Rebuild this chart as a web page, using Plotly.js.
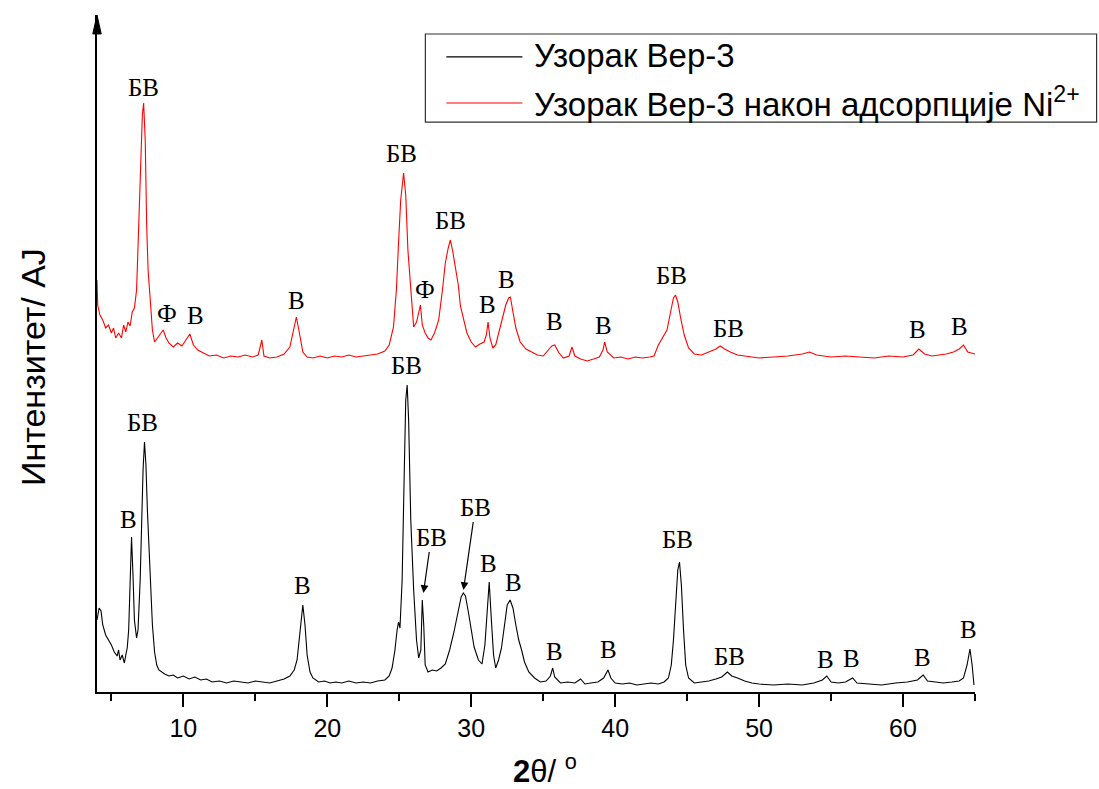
<!DOCTYPE html>
<html>
<head>
<meta charset="utf-8">
<script src="https://cdn.plot.ly/plotly-3.0.1.min.js"></script>
<style>html,body{margin:0;padding:0;background:#fff;}#chart{width:1099px;height:789px;}</style>
</head>
<body>
<div id="chart"></div>
<script>
// ---- Data (2θ in degrees, intensity in arbitrary units) ----
const seriesNames = ["Узорак Вер-3", "Узорак Вер-3 након адсорпције Ni<sup>2+</sup>"];
const seriesColors = ["#000000", "#ff0000"];
const xAxisTitle = "<b>2</b>θ/ <sup>o</sup>";
const yAxisTitle = "Интензитет/ AJ";

const blackX = [4.0,4.15,4.28,4.4,4.6,4.8,5.0,5.2,5.4,5.5,5.6,5.75,5.9,6.0,6.1,6.2,6.3,6.4,6.5,6.6,6.75,6.85,7.0,7.1,7.2,7.3,7.4,7.5,7.6,7.7,7.85,8.0,8.15,8.3,8.5,8.7,9.0,9.3,9.6,10.0,10.4,10.8,11.2,11.6,12.0,12.5,13.0,13.5,14.0,14.5,15.0,15.5,16.0,16.5,17.0,17.4,17.7,17.9,18.1,18.3,18.45,18.6,18.8,19.0,19.4,19.8,20.2,20.6,21.0,21.5,22.0,22.5,23.0,23.5,24.0,24.3,24.5,24.7,24.85,24.95,25.05,25.2,25.35,25.45,25.55,25.65,25.8,26.0,26.2,26.35,26.5,26.6,26.7,26.8,27.0,27.3,27.6,27.9,28.2,28.5,28.8,29.1,29.3,29.45,29.6,29.8,30.0,30.2,30.5,30.75,30.95,31.1,31.25,31.4,31.55,31.7,31.9,32.1,32.3,32.5,32.7,32.9,33.1,33.3,33.5,33.7,34.0,34.4,34.8,35.2,35.5,35.66,35.8,36.2,36.7,37.2,37.6,37.9,38.3,38.8,39.2,39.5,39.7,40.0,40.5,41.0,41.5,42.0,42.5,43.0,43.4,43.7,43.9,44.05,44.2,44.35,44.47,44.6,44.75,44.9,45.1,45.5,46.0,46.5,47.0,47.4,47.8,48.1,48.5,49.0,49.5,50.0,51.0,52.0,53.0,53.8,54.4,54.7,55.0,55.5,56.0,56.5,56.8,57.5,58.5,59.5,60.3,61.0,61.4,61.7,62.2,62.8,63.4,63.9,64.2,64.45,64.65,64.8,64.93];
const blackY = [72,84,81,67,57,52,47,40,36,42,32,37,29,37,44,62,102,155,117,72,54,62,112,172,222,250,227,182,147,117,67,40,27,22,20,18,16,17,14,16,13,15,12,13,10,11,9,11,10,9,11,10,9,11,13,16,22,32,57,87,67,37,20,14,10,11,9,10,9,11,9,10,9,11,12,16,24,42,62,70,64,112,222,292,307,272,172,102,52,34,42,92,67,27,20,22,21,24,28,42,60,82,95,99,96,80,60,45,32,28,47,82,110,72,37,24,32,44,67,87,92,84,67,52,42,30,20,14,10,11,16,24,15,9,10,9,13,8,9,10,14,22,14,9,8,9,7,8,9,8,10,14,27,52,92,122,130,107,62,27,14,9,10,11,13,15,20,16,14,11,9,8,7,8,7,9,12,16,10,9,10,14,9,8,7,9,10,12,17,11,10,9,10,11,14,27,43,27,7];

const redX = [4.0,4.05,4.2,4.4,4.6,4.8,5.0,5.15,5.3,5.5,5.7,5.85,6.0,6.15,6.3,6.45,6.6,6.75,6.9,7.05,7.15,7.24,7.35,7.45,7.55,7.7,7.85,8.0,8.2,8.4,8.6,8.8,9.0,9.3,9.6,9.9,10.2,10.45,10.7,11.0,11.4,11.8,12.3,12.8,13.3,13.8,14.3,14.8,15.2,15.45,15.6,16.0,16.5,17.0,17.4,17.65,17.85,18.05,18.3,18.6,19.0,19.5,20.0,20.5,21.0,21.5,22.0,22.5,23.0,23.5,24.0,24.3,24.6,24.8,24.96,25.1,25.3,25.45,25.6,25.8,26.0,26.2,26.47,26.6,26.8,27.0,27.2,27.45,27.74,28.0,28.2,28.4,28.55,28.7,28.9,29.1,29.25,29.5,29.7,30.0,30.3,30.6,30.9,31.05,31.17,31.3,31.5,31.7,31.9,32.14,32.4,32.6,32.72,32.9,33.1,33.4,33.8,34.2,34.6,35.0,35.35,35.6,35.8,36.1,36.4,36.8,37.0,37.2,37.6,38.05,38.5,38.9,39.15,39.27,39.45,39.9,40.4,40.9,41.4,41.9,42.4,42.7,43.0,43.3,43.6,43.85,44.05,44.19,44.35,44.55,44.8,45.1,45.5,46.0,46.5,47.0,47.3,47.6,48.0,48.5,49.0,49.5,50.0,51.0,52.0,53.0,53.5,54.0,55.0,56.0,57.0,58.0,59.0,60.0,60.7,61.1,61.5,62.0,62.5,63.0,63.5,63.9,64.2,64.5,65.0];
const redY = [412,387,377,372,364,367,359,364,354,359,354,367,360,370,366,380,384,402,467,532,577,589,552,467,422,392,362,350,354,357,362,354,349,345,349,346,352,358,347,342,339,336,337,334,336,335,337,335,337,352,336,334,335,338,345,362,375,360,340,335,334,336,334,336,335,337,335,336,337,338,341,347,365,402,452,492,519,497,442,402,365,370,387,367,359,354,352,359,372,402,429,444,452,442,426,407,386,370,359,350,345,348,350,357,370,354,344,347,358,372,387,394,395,380,364,350,343,340,337,336,342,346,347,339,334,336,345,336,333,331,333,335,342,350,340,334,335,333,335,334,335,336,347,354,362,380,394,397,390,374,357,344,338,337,340,343,346,343,340,337,336,335,334,335,336,338,340,337,335,336,335,334,336,335,337,343,338,336,337,338,340,343,347,340,338];

// Peak labels (phase marks)
const redLabelText  = ["БВ","Ф","В","В","БВ","БВ","Ф","В","В","В","В","БВ","БВ","В","В"];
const redLabelX     = [7.22,8.89,10.83,17.85,25.15,28.55,26.81,31.12,32.44,35.78,39.19,43.9,47.87,61.0,63.92];
const redLabelY     = [605,379,377,392,539,472,403,388,413,371,367,417,364,363,366];

const blackLabelText = ["В","БВ","В","БВ","В","В","В","В","БВ","БВ","В","В","В","В"];
const blackLabelX    = [6.18,7.15,18.27,25.49,31.19,32.93,35.78,39.53,44.32,47.94,54.6,56.4,61.36,64.55];
const blackLabelY    = [173,270,107,327,129,110,41,43,153,36,33,34,35,63];

// Labels with arrows pointing at peaks
const arrowLabelText = ["БВ","БВ"];
const arrowTextX     = [27.23,30.29];
const arrowTextY     = [155,185];
const arrowTipX      = [26.68,29.46];
const arrowTipY      = [99,102];

const xTickVals = [10,20,30,40,50,60];

// ---- Plot ----
const sans = "Liberation Sans, Arial, sans-serif";
const labelFont = {family:"Liberation Serif, Times New Roman, serif", size:25, color:"#000"};
const annotations = [];
redLabelText.forEach((t,i)=>annotations.push({x:redLabelX[i], y:redLabelY[i], text:t, showarrow:false, xanchor:"center", yanchor:"middle", font:labelFont}));
blackLabelText.forEach((t,i)=>annotations.push({x:blackLabelX[i], y:blackLabelY[i], text:t, showarrow:false, xanchor:"center", yanchor:"middle", font:labelFont}));
arrowLabelText.forEach((t,i)=>annotations.push({x:arrowTipX[i], y:arrowTipY[i], ax:arrowTextX[i], ay:arrowTextY[i], axref:"x", ayref:"y", text:t, showarrow:true, arrowhead:2, arrowsize:1.3, arrowwidth:1.2, arrowcolor:"#000", font:labelFont}));
// axis titles
annotations.push({xref:"paper", yref:"paper", x:-0.073, y:0.48, text:yAxisTitle, textangle:-90, showarrow:false,
                  xanchor:"center", yanchor:"middle", font:{family:sans, size:34, color:"#000"}});
annotations.push({xref:"paper", yref:"paper", x:0.5107, y:-0.113, text:xAxisTitle, showarrow:false,
                  xanchor:"center", yanchor:"middle", font:{family:sans, size:31, color:"#000"}});

// legend (drawn as a framed box with line samples and names)
const shapes = [
  {type:"path", xref:"paper", yref:"paper", path:"M -0.0048,0.972 L 0,1.0 L 0.0048,0.972 Z", fillcolor:"#000", line:{color:"#000", width:1}},
  {type:"rect", xref:"paper", yref:"paper", x0:0.3740, x1:1.1385, y0:0.8419, y1:0.9719, line:{color:"#333", width:1.2}, fillcolor:"rgba(0,0,0,0)"}
];
const legendRowY = [0.9380, 0.8700];
seriesNames.forEach((n,i)=>{
  shapes.push({type:"line", xref:"paper", yref:"paper", x0:0.3979, x1:0.4845, y0:legendRowY[i], y1:legendRowY[i], line:{color:seriesColors[i], width:1.2}});
  annotations.push({xref:"paper", yref:"paper", x:0.4960, y:legendRowY[i]+0.002, text:n, showarrow:false, xanchor:"left", yanchor:"middle",
                    font:{family:sans, size:33, color:"#000"}});
});

const traces = [
  {x:blackX, y:blackY, type:"scatter", mode:"lines", name:seriesNames[0], line:{color:seriesColors[0], width:1.1}},
  {x:redX, y:redY, type:"scatter", mode:"lines", name:seriesNames[1], line:{color:seriesColors[1], width:1.1}}
];

const layout = {
  width:1099, height:789,
  margin:{l:97, r:124, t:15, b:97, pad:0},
  paper_bgcolor:"#fff", plot_bgcolor:"#fff",
  font:{family:sans, color:"#000"},
  showlegend:false,
  xaxis:{range:[4,65], showline:true, linecolor:"#000", linewidth:2, ticks:"outside", ticklen:13, tickwidth:2, tickcolor:"#000",
         tickmode:"array", tickvals:xTickVals, showgrid:false, zeroline:false,
         minor:{dtick:5, tick0:0, ticks:"outside", ticklen:7, tickwidth:2, tickcolor:"#000", showgrid:false},
         tickfont:{family:sans, size:25, color:"#000"}},
  yaxis:{range:[0,677], showline:true, linecolor:"#000", linewidth:2, ticks:"", showticklabels:false, showgrid:false, zeroline:false},
  shapes:shapes,
  annotations:annotations
};

Plotly.newPlot("chart", traces, layout, {staticPlot:true, displayModeBar:false});
</script>
</body>
</html>
